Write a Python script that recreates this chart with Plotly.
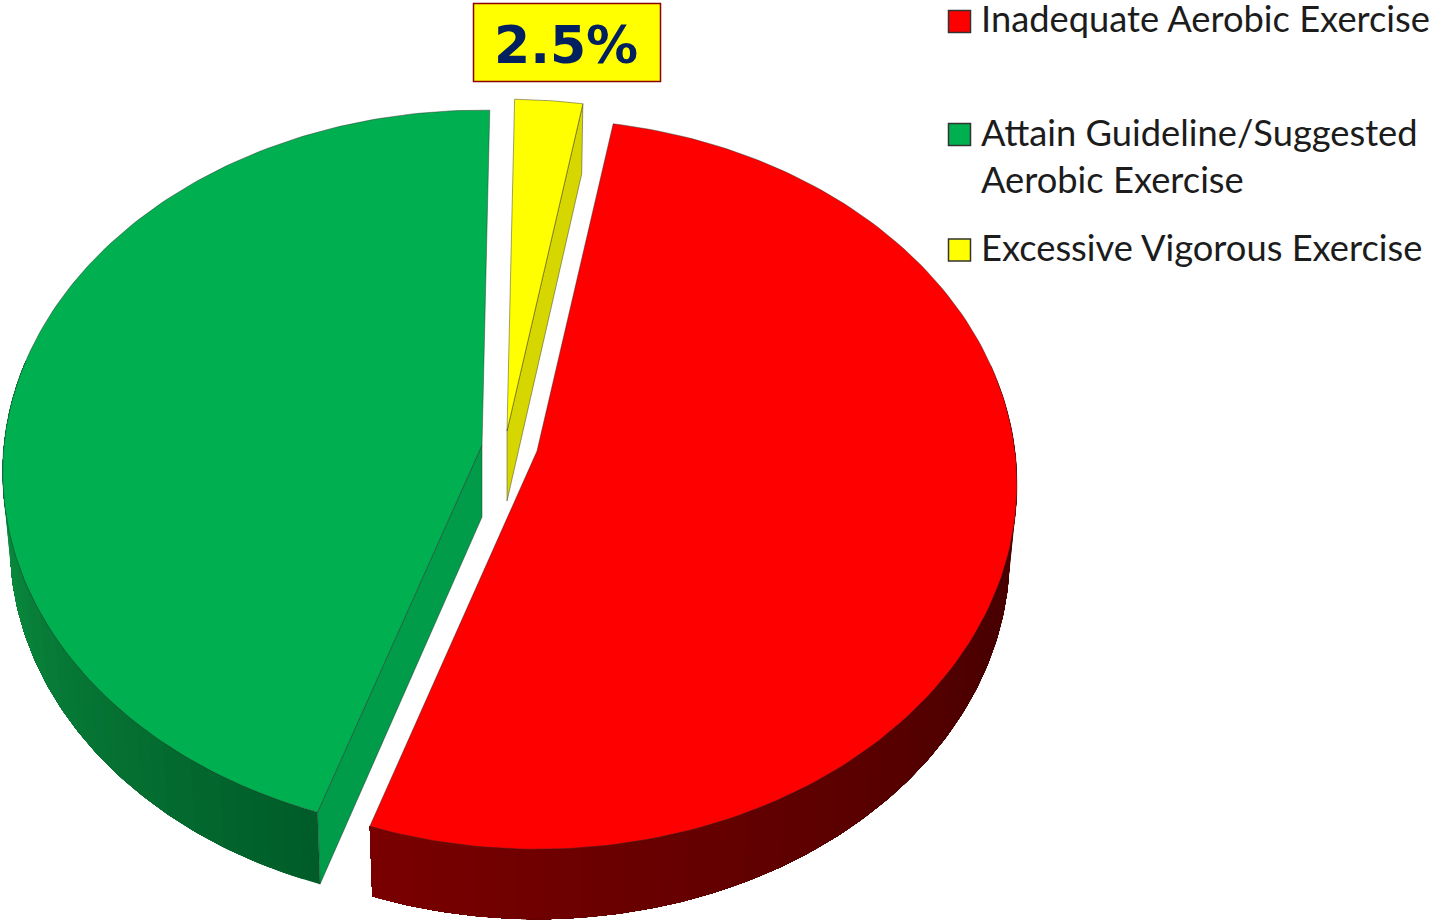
import numpy as np
import plotly.graph_objects as go

# ---- data ----
categories = ["Inadequate Aerobic Exercise", "Attain Guideline/Suggested<br>Aerobic Exercise", "Excessive Vigorous Exercise"]
values = [52.4, 45.1, 2.5]
top_colors = ["#ff0000", "#00b050", "#ffff00"]
callout_label = "2.5%"

# ---- pie geometry (pixels on the page-sized axes) ----
W, H = 1441, 922
start_deg = 10.0          # clockwise from twelve o'clock, where the first slice begins
A = [478.0, 478.0, 476.0]    # projected horizontal radius per slice
B = [362.0, 360.0, 362.0]    # projected vertical radius per slice
K = [0.0909, 0.075, 0.0909]  # perspective strength per slice
apex = [(537, 451), (482, 445), (507, 431)]   # exploded slice centres
depth = [70, 72, 70]
floor_shrink = 0.985      # the lower rim is further from the eye
wall_from = [(122, 0, 0), (12, 146, 66), (212, 212, 0)]
wall_to = [(72, 0, 0), (0, 92, 40), (212, 212, 0)]
cut_colors = [None, "#009c49", "#d6d600"]
edge = "rgba(40,40,40,0.55)"


def project(theta, i):
    u, v = np.sin(theta), np.cos(theta)
    d = 1 + K[i] * v
    return apex[i][0] + A[i] * u / d, apex[i][1] - B[i] * v / d


def lower(xs, ys, i):
    return apex[i][0] + (np.asarray(xs) - apex[i][0]) * floor_shrink, np.asarray(ys) + depth[i]


fig = go.Figure()


def poly(xs, ys, fill, line=None, width=0.8):
    fig.add_trace(go.Scatter(
        x=list(xs), y=list(ys), mode="lines", fill="toself", fillcolor=fill,
        line=dict(color=line or "rgba(0,0,0,0)", width=width if line else 0),
        hoverinfo="skip", showlegend=False))


# slice angular extents come straight from the values
spans = []
a0 = np.radians(start_deg)
for v in values:
    a1 = a0 + 2 * np.pi * v / sum(values)
    spans.append((a0, a1))
    a0 = a1

tops = []
for i, (t0, t1) in enumerate(spans):
    c, d = apex[i], depth[i]
    # outer wall: each pass repaints from its angle to the wall's end, so no seams show
    grid = np.linspace(t0, t1, 241)
    grid = grid[np.cos(grid) <= 0.25]
    for j in range(0, max(len(grid) - 1, 0), 3):
        part = grid[j:]
        mid = part[0]
        if i == 0:
            f = np.clip((mid - np.pi * 1.1) / (np.pi * 0.6 - np.pi * 1.1), 0, 1)
        else:
            f = np.clip((mid - np.pi * 1.5) / (np.pi * 1.1 - np.pi * 1.5), 0, 1)
        col = "rgb(%d,%d,%d)" % tuple(
            round(p + (q - p) * f) for p, q in zip(wall_from[i], wall_to[i]))
        tx, ty = project(part, i)
        bx, by = lower(tx, ty, i)
        poly([*tx, *bx[::-1], tx[0]], [*ty, *by[::-1], ty[0]], col)
    # flat cut face that is turned towards the viewer
    if cut_colors[i]:
        cut = t1 if i == 2 else t0
        xr, yr = project(cut, i)
        bxr, byr = lower(xr, yr, i)
        poly([c[0], xr, bxr, c[0], c[0]], [c[1], yr, byr, c[1] + d, c[1]], cut_colors[i], edge)
    # top face, kept for the final pass
    th = np.linspace(t0, t1, 160)
    px, py = project(th, i)
    tops.append(([c[0], *px, c[0]], [c[1], *py, c[1]], top_colors[i]))

for xs, ys, col in tops:
    poly(xs, ys, col, edge)

# ---- legend ----
legend_x = 959.5
legend_mark_y = [21.5, 134.5, 250]
legend_text_y = [17.5, 155.5, 247]
fig.add_trace(go.Scatter(
    x=[legend_x] * 3, y=legend_mark_y, mode="markers",
    marker=dict(symbol="square", size=22, color=top_colors, line=dict(color="#333333", width=1.5)),
    hoverinfo="skip", showlegend=False))
for name, y in zip(categories, legend_text_y):
    fig.add_annotation(x=979, y=y, text=name, showarrow=False, xanchor="left", yanchor="middle",
                       align="left", font=dict(family="Lato", size=36.3, color="#1c1c1c"))

# ---- callout ----
fig.add_shape(type="rect", x0=473.5, x1=660.5, y0=3.5, y1=81.5,
              fillcolor="#ffff00", line=dict(color="#8b0000", width=1.5))
fig.add_annotation(x=566, y=45, text="<b>%s</b>" % callout_label, showarrow=False,
                   xanchor="center", yanchor="middle",
                   font=dict(family="DejaVu Sans", size=52, color="#002060"))

fig.update_layout(
    width=W, height=H, margin=dict(l=0, r=0, t=0, b=0),
    paper_bgcolor="white", plot_bgcolor="white", showlegend=False,
    xaxis=dict(range=[0, W], visible=False, fixedrange=True),
    yaxis=dict(range=[H, 0], visible=False, fixedrange=True),
)
fig.write_html("out.html", post_script="document.body.style.margin='0';",
               config={"displayModeBar": False})
